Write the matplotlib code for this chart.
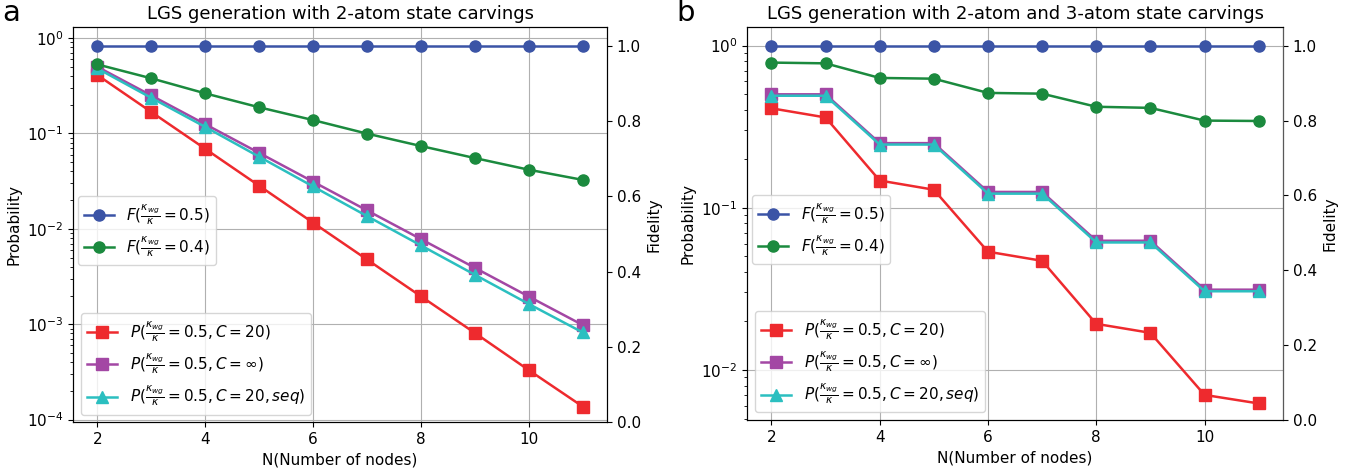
import matplotlib
matplotlib.use("Agg")
import matplotlib.pyplot as plt

# node counts
N = [2, 3, 4, 5, 6, 7, 8, 9, 10, 11]

# panel a: 2-atom state carvings
fid_a_05 = [1.0, 1.0, 1.0, 1.0, 1.0, 1.0, 1.0, 1.0, 1.0, 1.0]
fid_a_04 = [0.951, 0.914, 0.874, 0.837, 0.803, 0.767, 0.734, 0.702, 0.671, 0.644]
p_a_c20 = [0.41, 0.168, 0.069, 0.0283, 0.0116, 0.00477, 0.00196, 0.00081, 0.00033, 0.000137]
p_a_cinf = [0.5, 0.25, 0.125, 0.0625, 0.0312, 0.0156, 0.0078, 0.0039, 0.00195, 0.00098]
p_a_seq = [0.48, 0.236, 0.117, 0.057, 0.0278, 0.0136, 0.0067, 0.0033, 0.00163, 0.00082]

# panel b: 2-atom and 3-atom state carvings
fid_b_05 = [1.0, 1.0, 1.0, 1.0, 1.0, 1.0, 1.0, 1.0, 1.0, 1.0]
fid_b_04 = [0.955, 0.953, 0.914, 0.912, 0.874, 0.872, 0.837, 0.834, 0.800, 0.799]
p_b_c20 = [0.41, 0.36, 0.147, 0.129, 0.0535, 0.047, 0.0192, 0.0169, 0.0070, 0.0062]
p_b_cinf = [0.5, 0.5, 0.25, 0.25, 0.125, 0.125, 0.0625, 0.0625, 0.0312, 0.0312]
p_b_seq = [0.49, 0.49, 0.245, 0.245, 0.122, 0.122, 0.061, 0.061, 0.0305, 0.0305]

c_blue = '#3b54a6'
c_green = '#1b8a3e'
c_red = '#ee2a2e'
c_purple = '#a347a4'
c_cyan = '#2bbfc0'

lab_f05 = r'$F(\frac{\kappa_{wg}}{\kappa}=0.5)$'
lab_f04 = r'$F(\frac{\kappa_{wg}}{\kappa}=0.4)$'
lab_p20 = r'$P(\frac{\kappa_{wg}}{\kappa}=0.5, C=20)$'
lab_pinf = r'$P(\frac{\kappa_{wg}}{\kappa}=0.5, C=\infty)$'
lab_pseq = r'$P(\frac{\kappa_{wg}}{\kappa}=0.5, C=20, seq)$'

plt.rcParams['font.size'] = 11

fig = plt.figure(figsize=(13.59, 4.76), dpi=100)
ax_a = fig.add_axes([0.0537, 0.113, 0.393, 0.830])
ax_b = fig.add_axes([0.5497, 0.1176, 0.3944, 0.8256])


def draw_panel(ax, title, letter, fid05, fid04, p20, pinf, pseq, ylim, gray_spine=False):
    ms = 8
    lw = 1.8
    l1, = ax.plot(N, p20, 's-', color=c_red, ms=ms, lw=lw, label=lab_p20)
    l2, = ax.plot(N, pinf, 's-', color=c_purple, ms=ms, lw=lw, label=lab_pinf)
    l3, = ax.plot(N, pseq, '^-', color=c_cyan, ms=ms, lw=lw, label=lab_pseq)
    ax.set_yscale('log')
    ax.set_ylim(*ylim)
    ax.grid(True)
    ax.set_ylabel('Probability', fontsize=11)
    ax.set_xlabel('N(Number of nodes)', fontsize=11)
    ax.set_title(title, fontsize=13)
    ax.tick_params(labelsize=11)
    ax.legend(handles=[l1, l2, l3], loc='lower left', fontsize=11)

    ax2 = ax.twinx()
    f1, = ax2.plot(N, fid05, 'o-', color=c_blue, ms=ms, lw=lw, label=lab_f05)
    f2, = ax2.plot(N, fid04, 'o-', color=c_green, ms=ms, lw=lw, label=lab_f04)
    ax2.set_ylim(0, 1.05)
    ax2.set_ylabel('Fidelity', fontsize=11)
    ax2.tick_params(labelsize=11)
    ax2.legend(handles=[f1, f2], loc='upper left', bbox_to_anchor=(0.0, 0.585),
               borderaxespad=0.3, fontsize=11)
    if gray_spine:
        ax2.spines['right'].set_color('0.35')

    fig.text(ax.get_position().x0 - 0.052, 0.955, letter, fontsize=21)


draw_panel(ax_a, 'LGS generation with 2-atom state carvings', 'a',
           fid_a_05, fid_a_04, p_a_c20, p_a_cinf, p_a_seq, (0.94e-4, 1.3))
draw_panel(ax_b, 'LGS generation with 2-atom and 3-atom state carvings', 'b',
           fid_b_05, fid_b_04, p_b_c20, p_b_cinf, p_b_seq, (0.0049, 1.3), gray_spine=True)

fig.savefig('out.png', dpi=100)
